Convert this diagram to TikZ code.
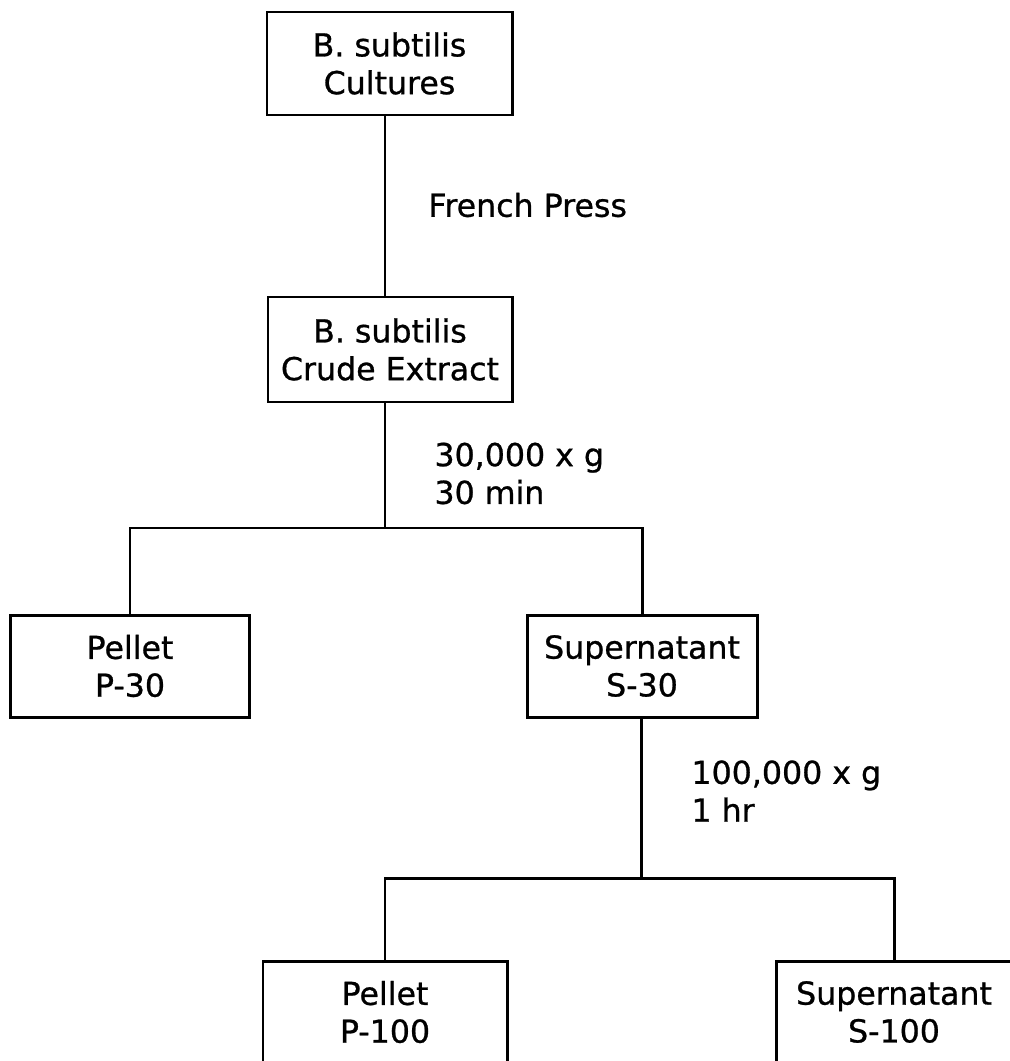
\documentclass[tikz,border=0pt]{standalone}
\usepackage{fontspec}
\setmainfont{DejaVu Sans}[FakeBold=0.8]
\usepackage{tikz}

\begin{document}
\begin{tikzpicture}[
		box/.style={draw, align=center, inner sep=0pt, font=\fontsize{18}{21.5}\selectfont},
		lbl/.style={anchor=west, align=left, inner sep=0pt, font=\fontsize{18}{21.5}\selectfont},
		line width=1.7pt]
		\useasboundingbox (0,0) rectangle (20.18,-21.22);
		%
		\node[box, minimum width=4.9cm, minimum height=2.06cm] (cult) at (7.79,-1.27) {B. subtilis\\Cultures};
		\node[box, minimum width=4.88cm, minimum height=2.1cm] (crude) at (7.80,-6.99) {B. subtilis\\Crude Extract};
		\node[box, minimum width=4.78cm, minimum height=2.04cm] (pthirty) at (2.60,-13.32) {Pellet\\P-30};
		\node[box, minimum width=4.6cm, minimum height=2.04cm] (sthirty) at (12.84,-13.32) {Supernatant\\S-30};
		\node[box, minimum width=4.88cm, minimum height=2.04cm] (phundred) at (7.70,-20.24) {Pellet\\P-100};
		\node[box, minimum width=4.72cm, minimum height=2.04cm] (shundred) at (17.88,-20.24) {Supernatant\\S-100};
		%
		\coordinate (splitA) at (7.70,-10.56);
		\coordinate (splitB) at (12.82,-17.56);
		%
		\draw (cult.south -| splitA) -- (crude.north -| splitA);
		\draw (crude.south -| splitA) -- (splitA);
		\draw (pthirty.north) |- (splitA) -| (sthirty.north);
		\draw (sthirty.south -| splitB) -- (splitB);
		\draw (phundred.north) |- (splitB) -| (shundred.north);
		%
		\node[lbl] (press) at (8.54,-4.10) {French Press};
		\node[lbl] (spinA) at (8.66,-9.47) {30,000 x g\\30 min};
		\node[lbl] (spinB) at (13.80,-15.82) {100,000 x g\\1 hr};
	\end{tikzpicture}
\end{document}
